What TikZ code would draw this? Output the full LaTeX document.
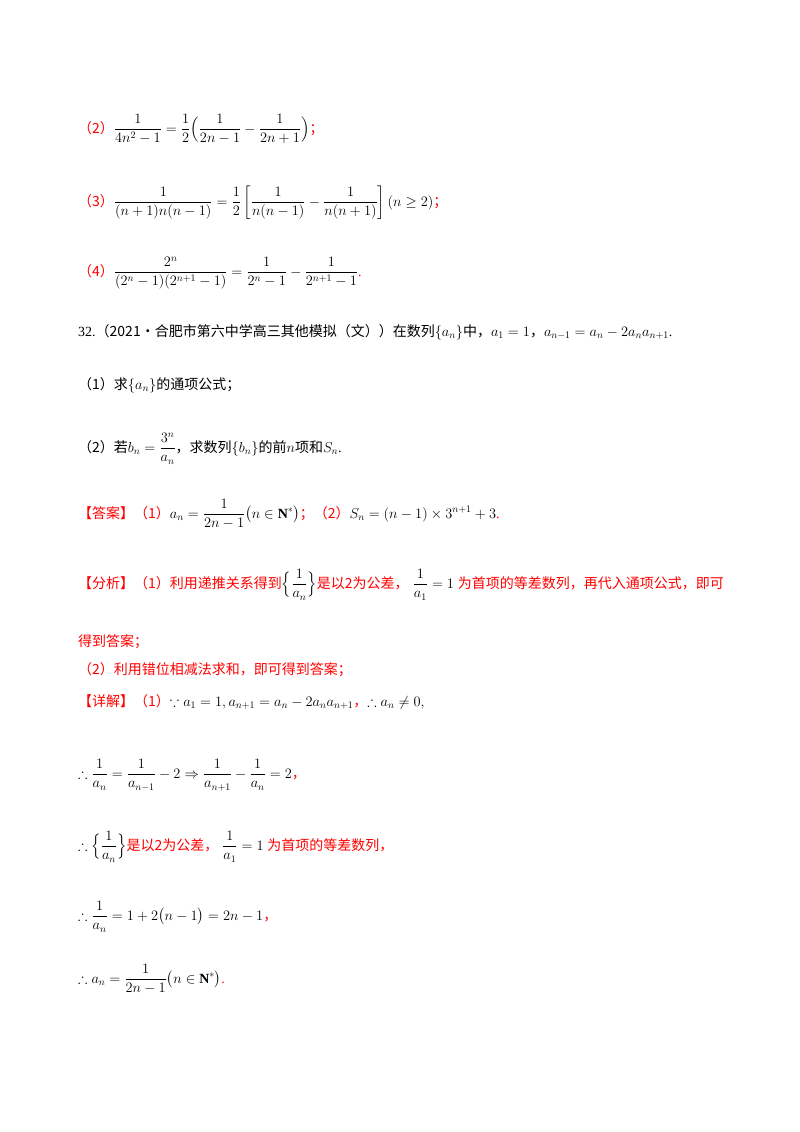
\documentclass[tikz,border=0pt]{standalone}
\usepackage{amsmath,amssymb}
\usepackage{fontspec}
\setmainfont{Liberation Serif}
\newfontfamily\cjk{Noto Sans CJK SC}
\definecolor{rd}{RGB}{255,0,0}
\newcommand{\zh}[1]{{\cjk #1}}
\newcommand{\rz}[1]{\textcolor{rd}{\cjk #1}}
\begin{document}
\begin{tikzpicture}[x=1pt,y=-1pt,
  t/.style={anchor=base west,inner sep=0pt,font=\fontsize{14}{16}\selectfont}]
\useasboundingbox (0,0) rectangle (800,1132);
\node[t] (l2) at (78,133) {\rz{（2）}$\displaystyle\frac{1}{4n^2-1}=\frac12\Big(\frac{1}{2n-1}-\frac{1}{2n+1}\Big)$\rz{；}};
\node[t] (l3) at (78,206) {\rz{（3）}$\displaystyle\frac{1}{(n+1)n(n-1)}=\frac12\left[\frac{1}{n(n-1)}-\frac{1}{n(n+1)}\right](n\geq 2)$\rz{；}};
\node[t] (l4) at (78,276) {\rz{（4）}$\displaystyle\frac{2^n}{(2^n-1)(2^{n+1}-1)}=\frac{1}{2^n-1}-\frac{1}{2^{n+1}-1}$\textcolor{rd}{.}};
\node[t] (q) at (78,336) {32.\zh{（2021·合肥市第六中学高三其他模拟（文））在数列}$\{a_n\}$\zh{中，}$a_1=1$\zh{，}$a_{n-1}=a_n-2a_na_{n+1}$.};
\node[t] (q1) at (78,389) {\zh{（1）求}$\{a_n\}$\zh{的通项公式；}};
\node[t] (q2) at (78,452) {\zh{（2）若}$\displaystyle b_n=\frac{3^n}{a_n}$\zh{，求数列}$\{b_n\}$\zh{的前}$n$\zh{项和}$S_n$.};
\node[t] (ans) at (78,518) {\rz{【答案】（1）}$\displaystyle a_n=\frac{1}{2n-1}\big(n\in\mathbf{N}^*\big)$\rz{；（2）}$S_n=(n-1)\times3^{n+1}+3$\textcolor{rd}{.}};
\node[t] (an) at (78,588) {\rz{【分析】（1）利用递推关系得到}$\displaystyle\Big\{\frac{1}{a_n}\Big\}$\rz{是以2为公差，}$\displaystyle\;\frac{1}{a_1}=1$\;\rz{为首项的等差数列，再代入通项公式，即可}};
\node[t] (an2) at (78,646) {\rz{得到答案；}};
\node[t] (an3) at (78,674) {\rz{（2）利用错位相减法求和，即可得到答案；}};
\node[t] (d) at (78,706) {\rz{【详解】（1）}$\because a_1=1,a_{n+1}=a_n-2a_na_{n+1}$\rz{，}$\therefore a_n\neq0,$};
\node[t] (d1) at (78,778) {$\displaystyle\therefore\frac{1}{a_n}=\frac{1}{a_{n-1}}-2\Rightarrow\frac{1}{a_{n+1}}-\frac{1}{a_n}=2$\rz{，}};
\node[t] (d2) at (78,850) {$\displaystyle\therefore\Big\{\frac{1}{a_n}\Big\}$\rz{是以2为公差，}$\displaystyle\;\frac{1}{a_1}=1$\;\rz{为首项的等差数列，}};
\node[t] (d3) at (78,920) {$\displaystyle\therefore\frac{1}{a_n}=1+2\big(n-1\big)=2n-1$\rz{，}};
\node[t] (d4) at (78,983) {$\displaystyle\therefore a_n=\frac{1}{2n-1}\big(n\in\mathbf{N}^*\big)$\textcolor{rd}{.}};
\end{tikzpicture}
\end{document}
